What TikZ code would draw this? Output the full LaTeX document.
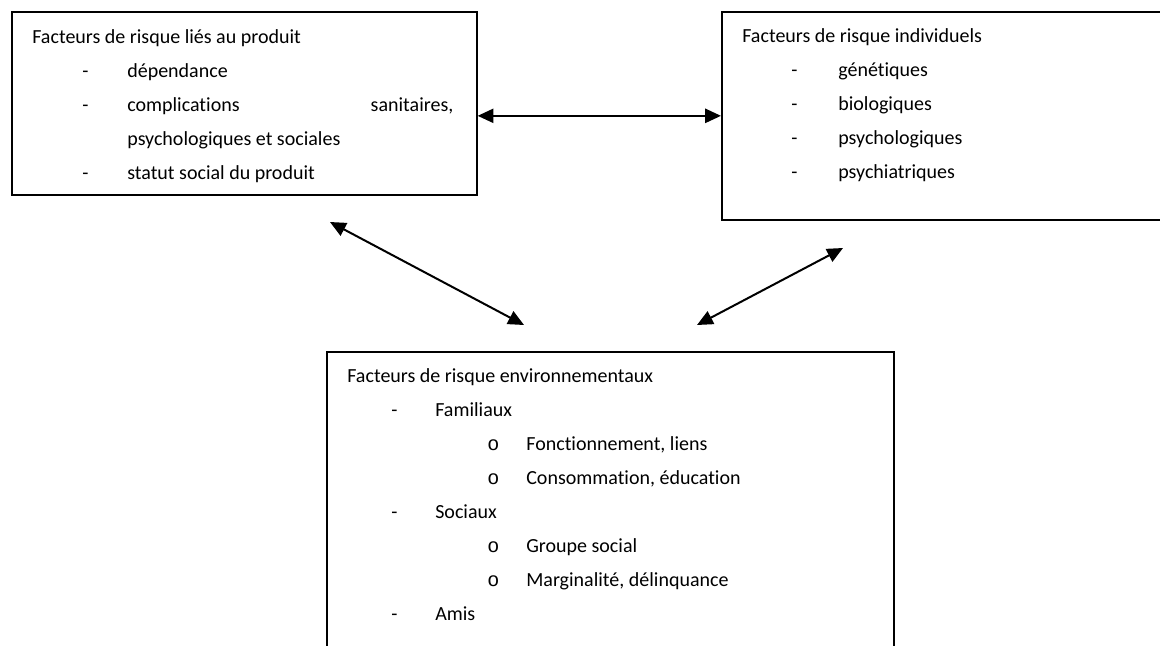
\documentclass[tikz,border=0pt]{standalone}
\usepackage{fontspec}
\setmainfont{Carlito}[Ligatures=NoCommon]
\newfontfamily\bulletfont{Liberation Mono}
\usetikzlibrary{arrows.meta}

\tikzset{
  riskbox/.style={draw, line width=1pt, anchor=north west, inner sep=0pt},
  risktext/.style={anchor=base west, align=left, inner sep=0pt,
    font=\fontsize{12pt}{20.4pt}\selectfont},
  link/.style={{Triangle[length=9.5pt,width=8.5pt]}-{Triangle[length=9.5pt,width=8.5pt]},
    line width=1.2pt},
}
% dash item: indent, dash width, text
\newcommand\dashitem[3]{\hspace*{#1}\makebox[#2][l]{-}#3}
% circle item: indent, circle width, text
\newcommand\circitem[3]{\hspace*{#1}\makebox[#2][l]{\bulletfont o}#3}

\begin{document}
\begin{tikzpicture}[x=0.6pt, y=-0.6pt]
    \clip (0,0) rectangle (1160,645);
    % boxes
    \node[riskbox, minimum width=279pt, minimum height=109.8pt] (produit) at (11,11) {};
    \node[riskbox, minimum width=269.4pt, minimum height=124.8pt] (individuel) at (721,11) {};
    \node[riskbox, minimum width=340.2pt, minimum height=185.4pt] (environ) at (326,351) {};
    % texts (placed at the baseline of their last line)
    \node[risktext] (produitText) at (32,179) {Facteurs de risque liés au produit\\
      \dashitem{30pt}{27pt}{dépendance}\\
      \dashitem{30pt}{27pt}{\makebox[195.6pt][s]{complications sanitaires,}}\\
      \hspace*{57pt}psychologiques et sociales\\
      \dashitem{30pt}{27pt}{statut social du produit}};
    \node[risktext] (individuelText) at (742,178) {Facteurs de risque individuels\\
      \dashitem{29.4pt}{28.2pt}{génétiques}\\
      \dashitem{29.4pt}{28.2pt}{biologiques}\\
      \dashitem{29.4pt}{28.2pt}{psychologiques}\\
      \dashitem{29.4pt}{28.2pt}{psychiatriques}};
    \node[risktext] (environText) at (347,620) {Facteurs de risque environnementaux\\
      \dashitem{26.4pt}{26.4pt}{Familiaux}\\
      \circitem{84pt}{23.4pt}{Fonctionnement, liens}\\
      \circitem{84pt}{23.4pt}{Consommation, éducation}\\
      \dashitem{26.4pt}{26.4pt}{Sociaux}\\
      \circitem{84pt}{23.4pt}{Groupe social}\\
      \circitem{84pt}{23.4pt}{Marginalité, délinquance}\\
      \dashitem{26.4pt}{26.4pt}{Amis}};
    % free ends of the diagonal links
    \coordinate (produitEnd) at (330,222);
    \coordinate (environLeft) at (524,325);
    \coordinate (environRight) at (697,325);
    \coordinate (individuelEnd) at (843,248);
    % links
    \draw[link] (produit.east |- individuel.west) -- (individuel.west);
    \draw[link] (produitEnd) -- (environLeft);
    \draw[link] (environRight) -- (individuelEnd);
\end{tikzpicture}
\end{document}
